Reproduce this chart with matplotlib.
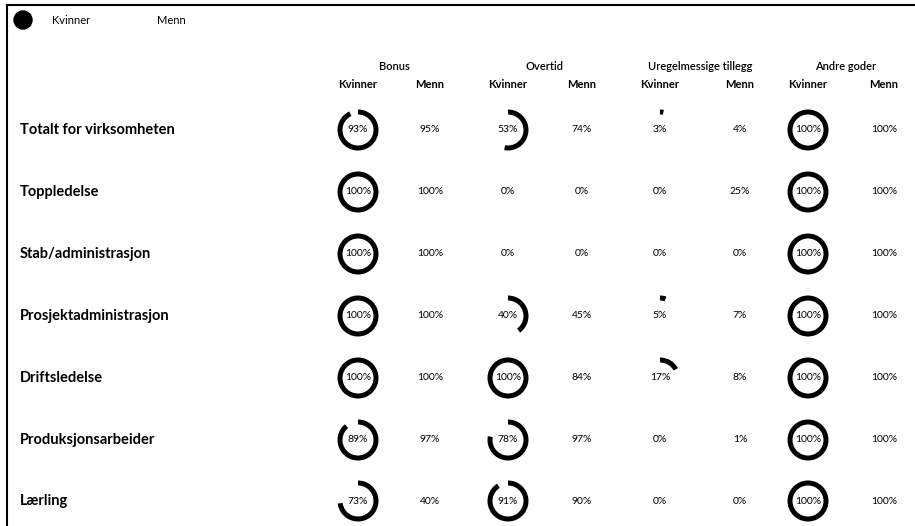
import matplotlib.pyplot as plt
from matplotlib.patches import Wedge, Circle

rows = ["Totalt for virksomheten", "Toppledelse", "Stab/administrasjon",
        "Prosjektadministrasjon", "Driftsledelse", "Produksjonsarbeider", "Lærling"]
groups = ["Bonus", "Overtid", "Uregelmessige tillegg", "Andre goder"]

bonus_k = [93, 100, 100, 100, 100, 89, 73]
bonus_m = [95, 100, 100, 100, 100, 97, 40]
overtid_k = [53, 0, 0, 40, 100, 78, 91]
overtid_m = [74, 0, 0, 45, 84, 97, 90]
ureg_k = [3, 0, 0, 5, 17, 0, 0]
ureg_m = [4, 25, 0, 7, 8, 1, 0]
andre_k = [100, 100, 100, 100, 100, 100, 100]
andre_m = [100, 100, 100, 100, 100, 100, 100]

kvinner = [bonus_k, overtid_k, ureg_k, andre_k]
menn = [bonus_m, overtid_m, ureg_m, andre_m]

W, H = 915, 526
plt.rcParams['font.family'] = ['Lato', 'DejaVu Sans']

fig = plt.figure(figsize=(W / 100, H / 100), dpi=100)
ax = fig.add_axes([0, 0, 1, 1])
ax.set_xlim(0, W)
ax.set_ylim(H, 0)
ax.axis('off')

# frame (left + top)
ax.plot([7, 7], [5, H], color='black', lw=1.5)
ax.plot([7, W], [5, 5], color='black', lw=1.5)

# legend
ax.add_patch(Circle((23, 20), 9, color='black'))
ax.text(52, 20, "Kvinner", fontsize=8, va='center')
ax.text(157, 20, "Menn", fontsize=8, va='center')

row_y = [130, 192, 254, 316, 378, 440, 501]
k_x = [358, 508, 660, 808]
m_x = [430, 582, 740, 884]
r_out, width = 20.5, 5

for gi, g in enumerate(groups):
    ax.text((k_x[gi] + m_x[gi]) / 2, 67, g, fontsize=8, ha='center', va='center', weight='semibold')
    ax.text(k_x[gi], 85, "Kvinner", fontsize=8, ha='center', va='center', weight='bold')
    ax.text(m_x[gi], 85, "Menn", fontsize=8, ha='center', va='center', weight='bold')

for ri, name in enumerate(rows):
    y = row_y[ri]
    ax.text(20, y, name, fontsize=10.5, weight='bold', va='center')
    for gi in range(len(groups)):
        v = kvinner[gi][ri]
        if v > 0:
            # y axis inverted: start at top, run clockwise on screen
            ax.add_patch(Wedge((k_x[gi], y), r_out, -90, -90 + 360 * v / 100,
                               width=width, color='black', lw=0))
        ax.text(k_x[gi], y, f"{v}%", fontsize=7.5, ha='center', va='center')
        ax.text(m_x[gi], y, f"{menn[gi][ri]}%", fontsize=7.5, ha='center', va='center')

fig.savefig("out.png", dpi=100)
